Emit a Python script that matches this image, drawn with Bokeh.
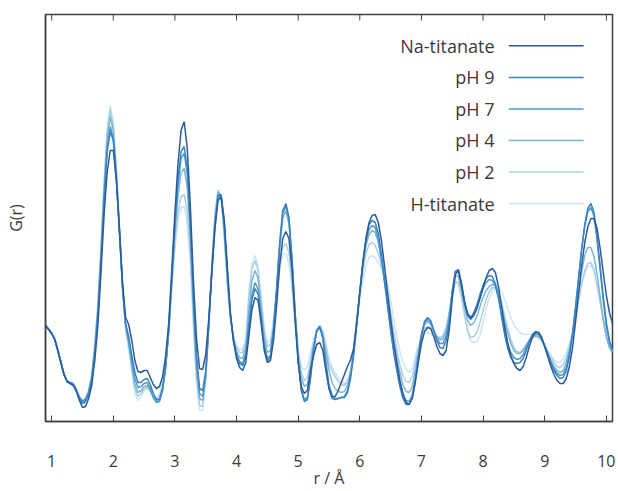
from bokeh.plotting import figure
from bokeh.models import Range1d, FixedTicker
from bokeh.core.properties import value
from bokeh.embed import file_html
from bokeh.resources import INLINE

# r grid (Angstrom), 0.05 steps from 0.90 to 10.10
r = [round(0.90 + 0.05 * i, 2) for i in range(185)]

series_names = ["Na-titanate", "pH 9", "pH 7", "pH 4", "pH 2", "H-titanate"]
x_ticks = [1, 2, 3, 4, 5, 6, 7, 8, 9, 10]

# G(r), arbitrary units
na_titanate = (
    [175,171,167,161,150,138,126,119,117,115,109,100,93,94,102,115,140]
    + [175,228,285,328,350,350,320,270,218,183,176]
    + [160,140,129,128,130,130,123,116,112,114,124,145]
    + [178,232,288,337,370,379,352,295,220,162,132,131,146]
    + [182,229,272,300,304,281,234,188,160,142,133,130,138]
    + [164,191,203,200,176,150,138,140]
    + [160,195,235,262,269,262,230,180,138,114,107,110,130]
    + [145,156,158,150,130,112,104,104,110,118,126,134,141]
    + [152,178,208,238,262,278,285,286,278,260,235,208,182,158,138,120,106,98,96,102,118]
    + [138,157,169,173,172,164,154,147,145,150]
    + [170,202,226,230,216,198,186,182,185]
    + [192,202,213,223,230,232,228,214,194,174,157,145,137,132,130]
    + [134,143,154,163,168,168,163,154,144,134,126,120,117,117]
    + [122,134,152,178,207,235,258,274,282,282,272,252,228,205,188,177]
)
ph9 = (
    [175,171,167,161,150,138,126,119,117,116,110,102,97,99,106,120,147]
    + [184,238,298,348,369,360,322,270,214,177,164]
    + [145,128,118,118,121,122,116,107,101,101,112,135]
    + [172,225,278,322,349,354,332,278,205,145,112,110,130]
    + [178,230,276,304,306,278,230,186,160,145,137,135,144]
    + [172,201,212,206,180,153,140,143]
    + [170,212,258,290,297,283,242,188,140,110,99,101,122]
    + [150,169,174,162,135,112,102,101,102,103,103,108,122]
    + [145,175,208,238,262,276,280,278,267,247,222,196,170,148,130,114,102,96,96,103,120]
    + [142,165,179,183,180,170,160,153,152,160]
    + [175,207,229,231,217,199,187,183,188]
    + [196,206,215,222,225,224,217,203,184,166,152,143,138,137,138]
    + [142,150,159,166,169,168,163,154,145,137,130,125,122,123]
    + [130,144,164,192,222,252,276,292,297,288,264,234,204,178,160,150]
)
ph7 = (
    [175,171,167,161,150,138,126,119,118,117,111,103,99,101,108,122,150]
    + [188,242,302,352,374,362,322,268,212,175,160]
    + [140,122,113,114,117,118,112,103,98,99,110,132]
    + [170,222,274,316,342,347,327,273,200,140,107,104,126]
    + [176,232,278,306,305,274,226,185,160,146,139,137,147]
    + [178,206,218,211,183,155,142,145]
    + [170,210,255,287,295,281,240,187,140,111,101,103,124]
    + [152,169,173,163,138,116,105,102,102,103,104,110,125]
    + [148,178,209,237,259,271,275,273,262,242,218,194,171,151,134,119,107,100,99,105,122]
    + [145,166,178,181,178,170,162,157,157,165]
    + [180,210,229,229,215,197,185,181,186]
    + [194,204,212,218,221,220,214,202,186,170,157,148,143,141,142]
    + [146,153,160,165,167,166,162,155,147,139,132,127,125,126]
    + [133,147,167,194,223,251,274,289,293,284,260,230,200,175,158,150]
)
ph4 = (
    [175,171,167,161,150,138,126,119,118,116,111,103,99,102,109,124,153]
    + [192,248,310,362,384,370,328,272,214,175,158]
    + [135,116,108,110,114,115,110,103,99,101,112,135]
    + [170,220,268,305,328,332,314,263,192,132,102,100,123]
    + [175,234,282,309,304,270,222,183,161,149,143,142,153]
    + [190,220,230,222,192,162,148,150]
    + [172,210,252,282,290,277,238,188,148,123,114,116,134]
    + [155,170,174,166,148,130,118,112,109,108,109,115,128]
    + [150,180,209,235,255,266,270,268,258,240,220,200,180,160,143,128,116,109,108,114,130]
    + [148,166,176,179,176,170,164,161,162,170]
    + [185,210,225,224,210,192,180,175,178]
    + [184,194,203,210,214,216,215,208,195,180,167,157,150,147,147]
    + [150,155,160,164,165,164,160,154,147,140,134,130,128,130]
    + [138,150,166,186,208,229,245,253,253,244,226,204,182,164,153,148]
)
ph2 = (
    [176,172,168,162,151,139,127,120,118,116,111,104,100,102,110,125,155]
    + [195,252,315,368,391,375,330,272,213,173,155]
    + [132,112,104,107,112,113,109,103,101,104,116,138]
    + [168,215,258,288,304,306,290,245,180,122,95,94,121]
    + [175,236,285,310,302,266,218,182,163,153,148,148,159]
    + [202,232,240,230,200,169,154,156]
    + [178,208,237,254,257,248,218,180,148,128,120,123,140]
    + [158,171,175,169,154,138,129,124,119,116,115,119,130]
    + [152,180,207,230,247,256,258,255,247,236,223,208,189,169,151,136,125,119,118,124,138]
    + [152,165,172,174,172,168,164,163,165,173]
    + [188,208,219,218,204,185,170,163,164]
    + [168,178,190,201,209,213,213,208,198,185,172,161,153,149,148]
    + [151,156,160,163,164,163,160,155,149,143,138,134,133,136]
    + [143,153,166,182,200,217,230,237,238,231,216,198,179,163,153,149]
)
h_titanate = (
    [176,172,168,162,151,139,127,120,118,116,111,104,100,102,110,126,156]
    + [198,255,318,372,395,378,332,272,212,170,150]
    + [128,108,100,104,110,112,109,105,103,106,118,140]
    + [167,212,252,280,293,294,278,234,172,116,90,90,120]
    + [175,238,287,311,300,263,216,182,164,155,151,151,162]
    + [209,237,245,234,204,173,158,160]
    + [182,210,234,246,247,238,210,175,148,134,130,134,148]
    + [160,172,175,170,157,142,133,128,123,119,117,120,130]
    + [150,175,200,220,235,243,245,243,238,232,226,216,201,182,164,149,138,131,128,132,145]
    + [155,163,167,168,167,164,161,160,162,170]
    + [185,205,217,217,203,184,168,159,158]
    + [159,165,178,192,203,210,213,213,209,201,192,183,176,171,168]
    + [166,166,166,166,165,164,161,156,150,145,141,138,138,142]
    + [148,157,169,184,200,215,227,234,235,229,215,198,180,165,155,150]
)

series_values = [na_titanate, ph9, ph7, ph4, ph2, h_titanate]
for name, vals in zip(series_names, series_values):
    if len(vals) != len(r):
        raise ValueError(f"{name}: {len(vals)} values for {len(r)} r points")

colors = ["#2a5b9a", "#3b82c4", "#4b9cc8", "#7db5d6", "#abd0e4", "#d0e4f1"]
axis_color = "#404040"
text_color = "#3a3a3a"
font = "Open Sans"

x_lo, x_hi = 0.9, 10.1
y_lo, y_hi = 79, 486
frame_h_px = 407.0

p = figure(width=618, height=491,
           x_range=Range1d(x_lo, x_hi), y_range=Range1d(y_lo, y_hi),
           output_backend="svg", toolbar_location=None,
           min_border_left=45, min_border_right=6,
           min_border_top=14, min_border_bottom=70)
p.xgrid.visible = False
p.ygrid.visible = False
p.outline_line_color = axis_color
p.outline_line_width = 1.5
p.background_fill_color = "white"
p.border_fill_color = "white"

xa = p.xaxis[0]
xa.ticker = FixedTicker(ticks=x_ticks)
xa.major_tick_in = 6
xa.major_tick_out = 0
xa.minor_tick_line_color = None
xa.major_tick_line_color = axis_color
xa.axis_line_color = axis_color
xa.axis_line_width = 1.5
xa.major_label_text_font = font
xa.major_label_text_font_size = "16px"
xa.major_label_text_color = text_color
xa.major_label_standoff = 33
xa.axis_label = "r / Å"
xa.axis_label_text_font = font
xa.axis_label_text_font_style = "normal"
xa.axis_label_text_font_size = "16px"
xa.axis_label_text_color = text_color
xa.axis_label_standoff = -3

ya = p.yaxis[0]
ya.ticker = FixedTicker(ticks=[])
ya.major_label_standoff = 0
ya.major_tick_out = 0
ya.minor_tick_line_color = None
ya.axis_line_color = axis_color
ya.axis_line_width = 1.5
ya.axis_label = "G(r)"
ya.axis_label_text_font = font
ya.axis_label_text_font_style = "normal"
ya.axis_label_text_font_size = "16px"
ya.axis_label_text_color = text_color
ya.axis_label_standoff = 19

# mirrored inward ticks along the top edge of the frame
tick_len = 6 / frame_h_px * (y_hi - y_lo)
p.segment(x0=x_ticks, y0=[y_hi] * len(x_ticks), x1=x_ticks,
          y1=[y_hi - tick_len] * len(x_ticks), line_color=axis_color, line_width=1)

# draw lightest first so darker curves sit on top
for name, vals, col in reversed(list(zip(series_names, series_values, colors))):
    p.line(r, vals, line_color=col, line_width=1.5)

# custom legend: right-aligned label followed by a line sample
def fx(frac):
    return x_lo + frac * (x_hi - x_lo)

def fy(frac):
    return y_hi - frac * (y_hi - y_lo)

row_fracs = [0.077 + 0.0775 * i for i in range(len(series_names))]
text_x = fx(0.792)
line_x0, line_x1 = fx(0.817), fx(0.949)
p.text(x=[text_x] * len(series_names), y=[fy(f) for f in row_fracs],
       text=series_names, text_align="right", text_baseline="middle",
       text_font=value(font), text_font_size="18px", text_color=text_color)
for f, col in zip(row_fracs, colors):
    p.line([line_x0, line_x1], [fy(f), fy(f)], line_color=col, line_width=1.5)

open("out.html", "w").write(file_html(p, INLINE))
